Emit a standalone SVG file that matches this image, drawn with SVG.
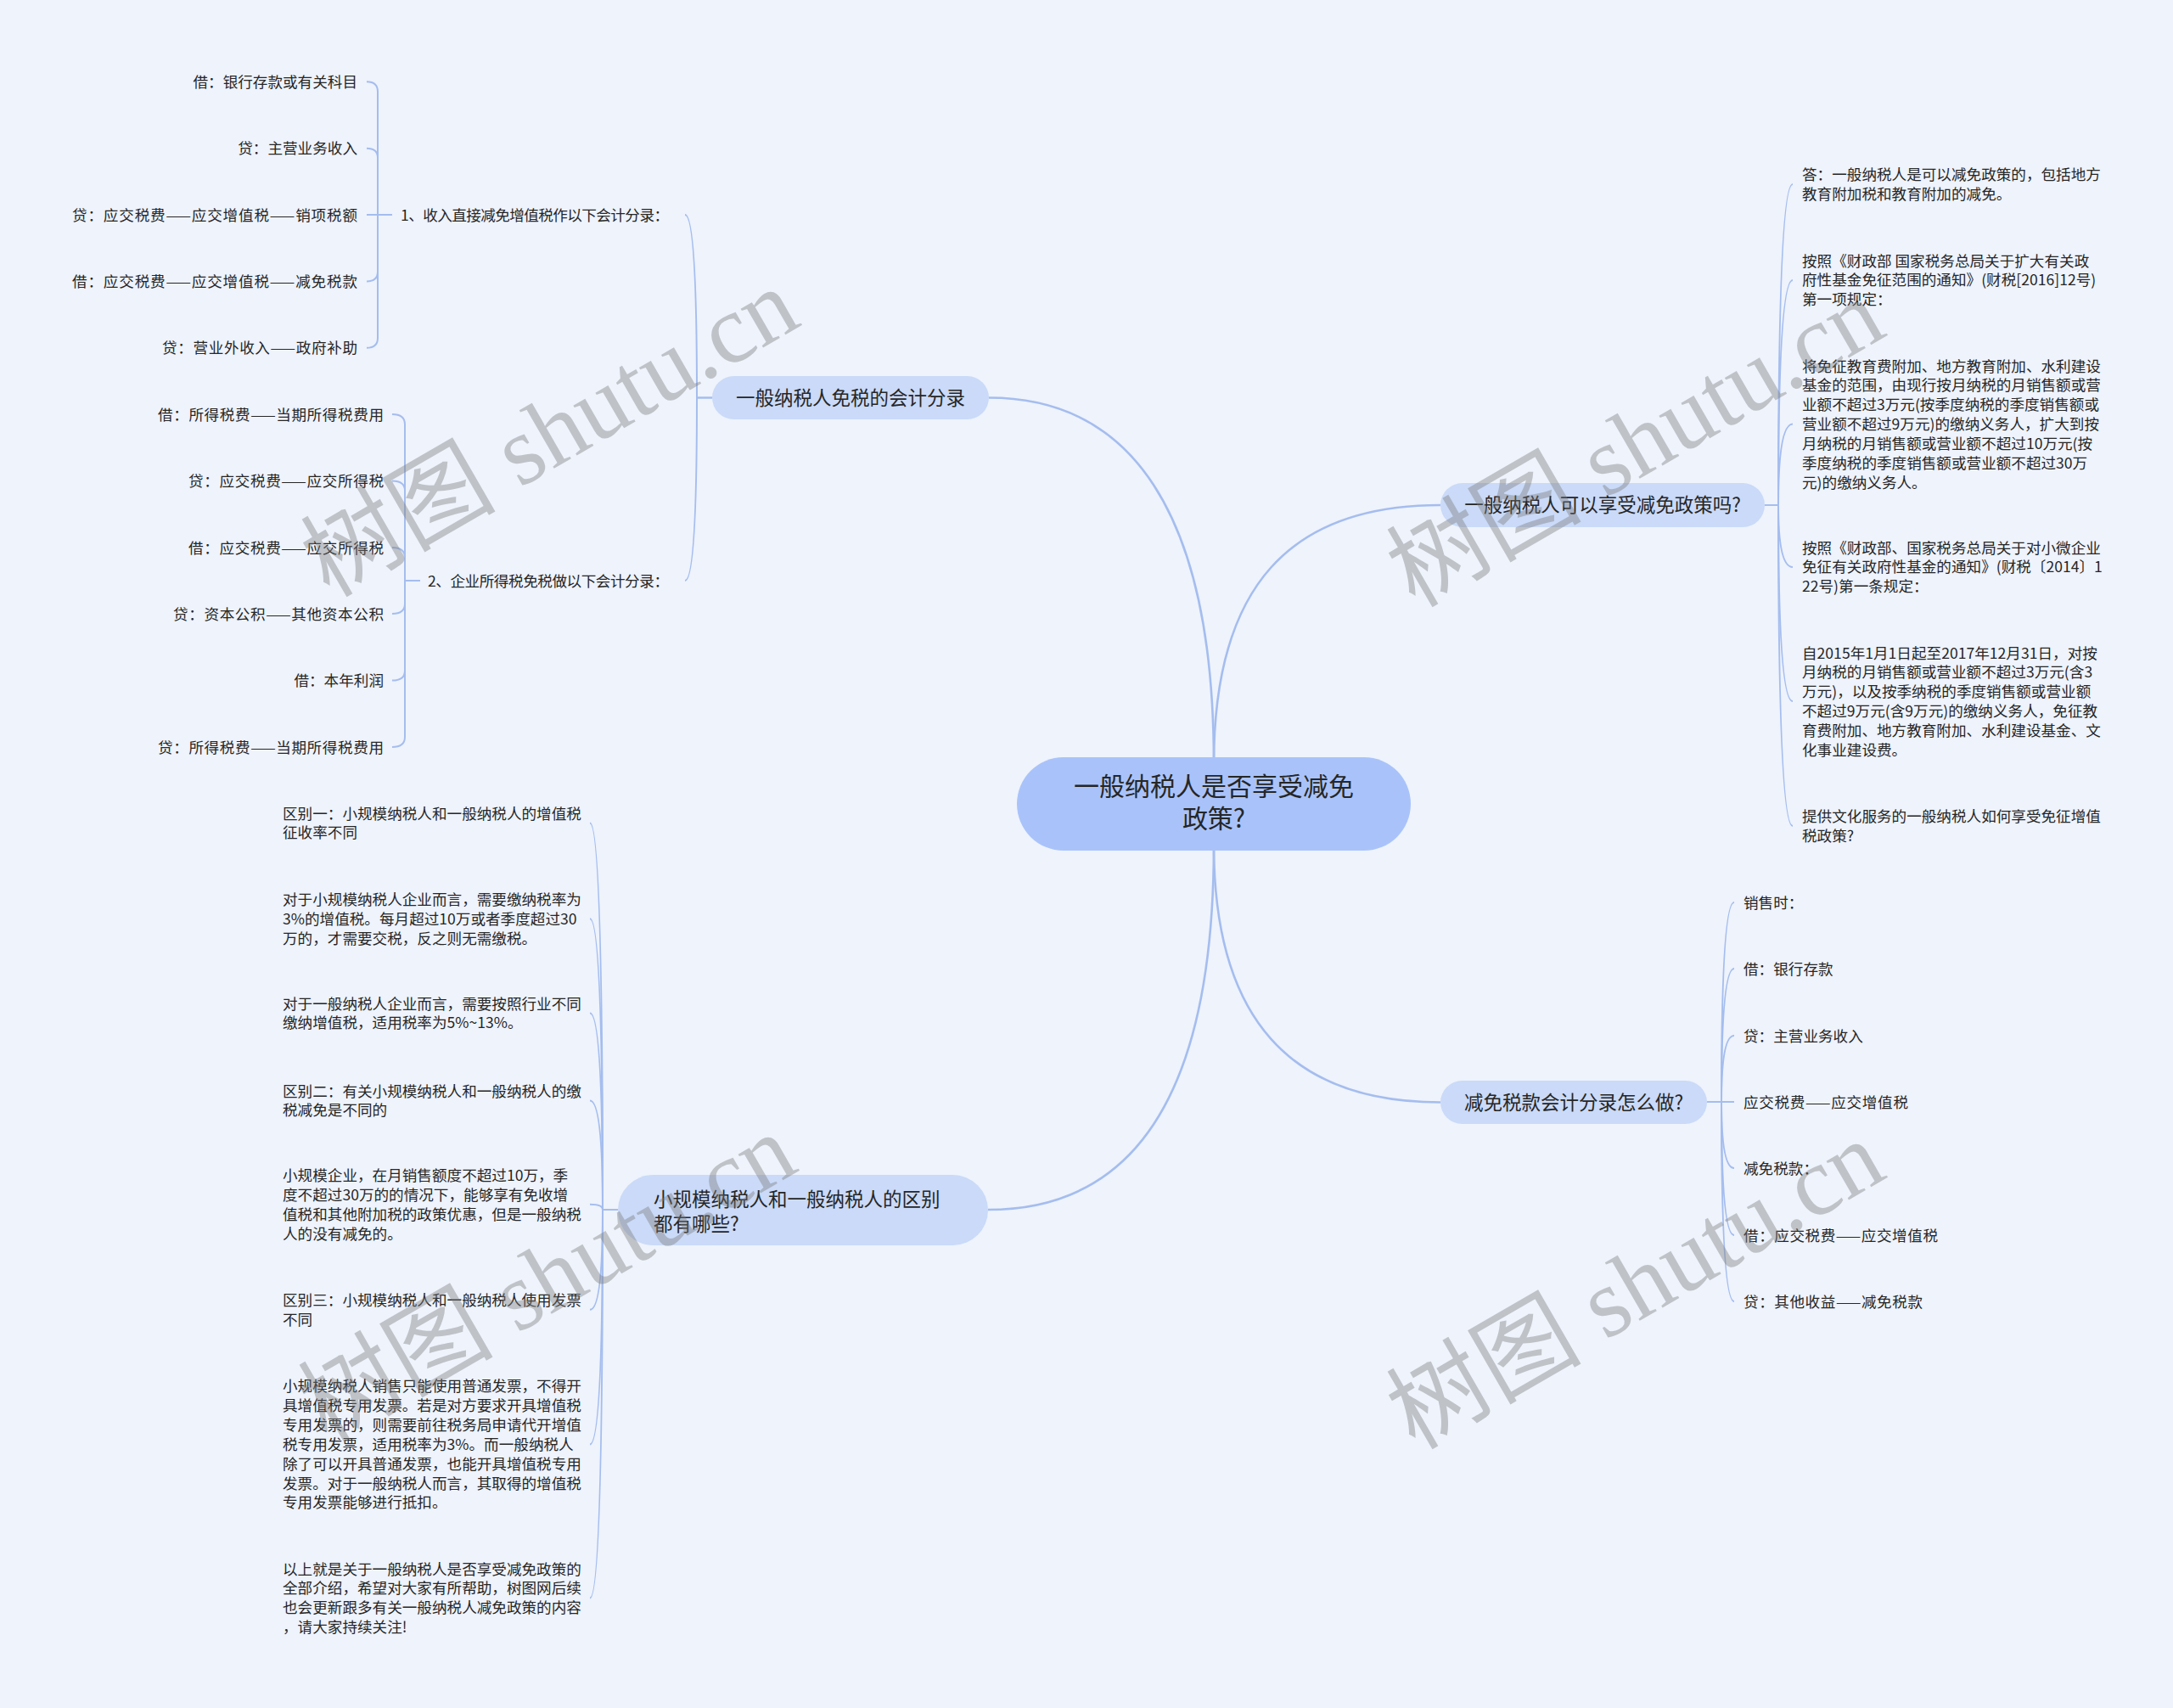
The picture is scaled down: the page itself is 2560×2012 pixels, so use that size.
<svg xmlns="http://www.w3.org/2000/svg" width="2560" height="2012" viewBox="0 0 2560 2012">
<defs>
<style>
.bg{fill:#eef3fc}
.main{fill:none;stroke:#a5bdee;stroke-width:2.6}
.sub{fill:none;stroke:#a5bdee;stroke-width:2}
.root rect{fill:#a9c3fa}
.branch rect{fill:#cadaf8}
text{font-family:"Noto Sans CJK SC","Noto Sans",sans-serif;fill:#262626}
.t-root{font-size:30px;text-anchor:middle}
.t-br{font-size:22.5px}
.t-leaf{font-size:17.6px}
.end{text-anchor:end}
.mid{text-anchor:middle}
.wm{font-family:"Liberation Serif","Noto Sans CJK SC",serif;font-size:115px;fill:#7a7a7a;opacity:0.4;text-anchor:middle;dominant-baseline:central}
</style>
</defs>
<rect class="bg" x="0" y="0" width="2560" height="2012"/>

<g id="connectors">
  <path class="main" d="M1430,900 C1430,600 1330,468.5 1165,468.5"/>
  <path class="main" d="M1430,900 C1430,690 1520,595 1697,595"/>
  <path class="main" d="M1430,995 C1430,1200 1520,1298.5 1697,1298.5"/>
  <path class="main" d="M1430,995 C1430,1300 1330,1425 1164,1425"/>

  <path class="sub" d="M839,468.5 H821 Q821,253 807,253"/>
  <path class="sub" d="M839,468.5 H821 Q821,684 807,684"/>

  <path class="sub" d="M462,253 H432"/>
  <path class="sub" d="M445,253 V108 Q445,96.3 432,96.3"/>
  <path class="sub" d="M445,253 V186 Q445,174.7 432,174.7"/>
  <path class="sub" d="M445,253 V320 Q445,331.4 432,331.4"/>
  <path class="sub" d="M445,253 V398 Q445,409.8 432,409.8"/>

  <path class="sub" d="M495,684 H477"/>
  <path class="sub" d="M477,684 V500 Q477,488 462,488"/>
  <path class="sub" d="M477,684 V578 Q477,566.5 462,566.5"/>
  <path class="sub" d="M477,684 V657 Q477,645 462,645"/>
  <path class="sub" d="M477,684 V711 Q477,723 462,723"/>
  <path class="sub" d="M477,684 V790 Q477,801.6 462,801.6"/>
  <path class="sub" d="M477,684 V868 Q477,880 462,880"/>

  <path class="sub" d="M2079,595 H2095"/>
  <path class="sub" d="M2095,595 Q2095,217 2112,217"/>
  <path class="sub" d="M2095,595 Q2095,330 2112,330"/>
  <path class="sub" d="M2095,595 Q2095,499.5 2112,499.5"/>
  <path class="sub" d="M2095,595 Q2095,668 2112,668"/>
  <path class="sub" d="M2095,595 Q2095,826 2112,826"/>
  <path class="sub" d="M2095,595 Q2095,973 2112,973"/>

  <path class="sub" d="M2011,1298 H2043"/>
  <path class="sub" d="M2028,1298 Q2028,1063 2043,1063"/>
  <path class="sub" d="M2028,1298 Q2028,1141 2043,1141"/>
  <path class="sub" d="M2028,1298 Q2028,1220 2043,1220"/>
  <path class="sub" d="M2028,1298 Q2028,1376 2043,1376"/>
  <path class="sub" d="M2028,1298 Q2028,1455 2043,1455"/>
  <path class="sub" d="M2028,1298 Q2028,1533 2043,1533"/>

  <path class="sub" d="M728,1425 H710"/>
  <path class="sub" d="M710,1425 Q710,969.5 695,969.5"/>
  <path class="sub" d="M710,1425 Q710,1082.3 695,1082.3"/>
  <path class="sub" d="M710,1425 Q710,1193.5 695,1193.5"/>
  <path class="sub" d="M710,1425 Q710,1296.5 695,1296.5"/>
  <path class="sub" d="M710,1425 Q710,1418.8 695,1418.8"/>
  <path class="sub" d="M710,1425 Q710,1542.8 695,1542.8"/>
  <path class="sub" d="M710,1425 Q710,1701.4 695,1701.4"/>
  <path class="sub" d="M710,1425 Q710,1882.5 695,1882.5"/>
</g>

<g id="root" class="root">
  <rect x="1198" y="892" width="464" height="110" rx="55"/>
  <text class="t-root"><tspan x="1430" y="937">一般纳税人是否享受减免</tspan><tspan x="1430" y="975">政策?</tspan></text>
</g>

<g id="b1" class="branch">
  <rect x="839" y="443" width="326" height="51" rx="25.5"/>
  <text class="t-br mid" x="1002" y="477">一般纳税人免税的会计分录</text>
</g>
<g id="b2" class="branch">
  <rect x="1697" y="569" width="382" height="52" rx="26"/>
  <text class="t-br mid" x="1888" y="603.3">一般纳税人可以享受减免政策吗?</text>
</g>
<g id="b3" class="branch">
  <rect x="1697" y="1273" width="314" height="51" rx="25.5"/>
  <text class="t-br mid" x="1854" y="1306.8">减免税款会计分录怎么做?</text>
</g>
<g id="b4" class="branch">
  <rect x="728" y="1384" width="436" height="83" rx="41.5"/>
  <text class="t-br"><tspan x="770" y="1421.3">小规模纳税人和一般纳税人的区别</tspan><tspan x="770" y="1450.3">都有哪些?</tspan></text>
</g>

<g id="s1"><text class="t-leaf" x="472" y="259.5" textLength="316" lengthAdjust="spacing">1、收入直接减免增值税作以下会计分录：</text></g>
<g id="s2"><text class="t-leaf" x="504" y="690.5" textLength="284" lengthAdjust="spacing">2、企业所得税免税做以下会计分录：</text></g>

<g id="l1"><text class="t-leaf end" x="421" y="102.8">借：银行存款或有关科目</text></g>
<g id="l2"><text class="t-leaf end" x="421" y="181.2">贷：主营业务收入</text></g>
<g id="l3"><text class="t-leaf" x="85" y="259.5" textLength="336" lengthAdjust="spacing">贷：应交税费——应交增值税——销项税额</text></g>
<g id="l4"><text class="t-leaf" x="85" y="337.9" textLength="336" lengthAdjust="spacing">借：应交税费——应交增值税——减免税款</text></g>
<g id="l5"><text class="t-leaf" x="191" y="416.3" textLength="230" lengthAdjust="spacing">贷：营业外收入——政府补助</text></g>

<g id="l6"><text class="t-leaf" x="186" y="494.5" textLength="266" lengthAdjust="spacing">借：所得税费——当期所得税费用</text></g>
<g id="l7"><text class="t-leaf" x="222" y="573" textLength="230" lengthAdjust="spacing">贷：应交税费——应交所得税</text></g>
<g id="l8"><text class="t-leaf" x="222" y="651.5" textLength="230" lengthAdjust="spacing">借：应交税费——应交所得税</text></g>
<g id="l9"><text class="t-leaf" x="204" y="729.5" textLength="248" lengthAdjust="spacing">贷：资本公积——其他资本公积</text></g>
<g id="l10"><text class="t-leaf end" x="452" y="808.1">借：本年利润</text></g>
<g id="l11"><text class="t-leaf" x="186" y="886.5" textLength="266" lengthAdjust="spacing">贷：所得税费——当期所得税费用</text></g>

<g id="r1"><text class="t-leaf"><tspan x="2123" y="212.2">答：一般纳税人是可以减免政策的，包括地方</tspan><tspan x="2123" dy="22.86">教育附加税和教育附加的减免。</tspan></text></g>
<g id="r2"><text class="t-leaf"><tspan x="2123" y="313.5">按照《财政部 国家税务总局关于扩大有关政</tspan><tspan x="2123" dy="22.86">府性基金免征范围的通知》(财税[2016]12号)</tspan><tspan x="2123" dy="22.86">第一项规定：</tspan></text></g>
<g id="r3"><text class="t-leaf"><tspan x="2123" y="437.5">将免征教育费附加、地方教育附加、水利建设</tspan><tspan x="2123" dy="22.86">基金的范围，由现行按月纳税的月销售额或营</tspan><tspan x="2123" dy="22.86">业额不超过3万元(按季度纳税的季度销售额或</tspan><tspan x="2123" dy="22.86">营业额不超过9万元)的缴纳义务人，扩大到按</tspan><tspan x="2123" dy="22.86">月纳税的月销售额或营业额不超过10万元(按</tspan><tspan x="2123" dy="22.86">季度纳税的季度销售额或营业额不超过30万</tspan><tspan x="2123" dy="22.86">元)的缴纳义务人。</tspan></text></g>
<g id="r4"><text class="t-leaf"><tspan x="2123" y="651.5">按照《财政部、国家税务总局关于对小微企业</tspan><tspan x="2123" dy="22.86">免征有关政府性基金的通知》(财税〔2014〕1</tspan><tspan x="2123" dy="22.86">22号)第一条规定：</tspan></text></g>
<g id="r5"><text class="t-leaf"><tspan x="2123" y="775.5">自2015年1月1日起至2017年12月31日，对按</tspan><tspan x="2123" dy="22.86">月纳税的月销售额或营业额不超过3万元(含3</tspan><tspan x="2123" dy="22.86">万元)，以及按季纳税的季度销售额或营业额</tspan><tspan x="2123" dy="22.86">不超过9万元(含9万元)的缴纳义务人，免征教</tspan><tspan x="2123" dy="22.86">育费附加、地方教育附加、水利建设基金、文</tspan><tspan x="2123" dy="22.86">化事业建设费。</tspan></text></g>
<g id="r6"><text class="t-leaf"><tspan x="2123" y="968.2">提供文化服务的一般纳税人如何享受免征增值</tspan><tspan x="2123" dy="22.86">税政策?</tspan></text></g>

<g id="k1"><text class="t-leaf" x="2054" y="1069.5">销售时：</text></g>
<g id="k2"><text class="t-leaf" x="2054" y="1147.5">借：银行存款</text></g>
<g id="k3"><text class="t-leaf" x="2054" y="1226.5">贷：主营业务收入</text></g>
<g id="k4"><text class="t-leaf" x="2054" y="1304.5" textLength="194" lengthAdjust="spacing">应交税费——应交增值税</text></g>
<g id="k5"><text class="t-leaf" x="2054" y="1382.5">减免税款：</text></g>
<g id="k6"><text class="t-leaf" x="2054" y="1461.5" textLength="229" lengthAdjust="spacing">借：应交税费——应交增值税</text></g>
<g id="k7"><text class="t-leaf" x="2054" y="1539.5" textLength="211" lengthAdjust="spacing">贷：其他收益——减免税款</text></g>

<g id="d1"><text class="t-leaf"><tspan x="333" y="964.5">区别一：小规模纳税人和一般纳税人的增值税</tspan><tspan x="333" dy="22.86">征收率不同</tspan></text></g>
<g id="d2"><text class="t-leaf"><tspan x="333" y="1066.1">对于小规模纳税人企业而言，需要缴纳税率为</tspan><tspan x="333" dy="22.86">3%的增值税。每月超过10万或者季度超过30</tspan><tspan x="333" dy="22.86">万的，才需要交税，反之则无需缴税。</tspan></text></g>
<g id="d3"><text class="t-leaf"><tspan x="333" y="1188.5">对于一般纳税人企业而言，需要按照行业不同</tspan><tspan x="333" dy="22.86">缴纳增值税，适用税率为5%~13%。</tspan></text></g>
<g id="d4"><text class="t-leaf"><tspan x="333" y="1291.5">区别二：有关小规模纳税人和一般纳税人的缴</tspan><tspan x="333" dy="22.86">税减免是不同的</tspan></text></g>
<g id="d5"><text class="t-leaf"><tspan x="333" y="1391">小规模企业，在月销售额度不超过10万，季</tspan><tspan x="333" dy="22.86">度不超过30万的的情况下，能够享有免收增</tspan><tspan x="333" dy="22.86">值税和其他附加税的政策优惠，但是一般纳税</tspan><tspan x="333" dy="22.86">人的没有减免的。</tspan></text></g>
<g id="d6"><text class="t-leaf"><tspan x="333" y="1538">区别三：小规模纳税人和一般纳税人使用发票</tspan><tspan x="333" dy="22.86">不同</tspan></text></g>
<g id="d7"><text class="t-leaf"><tspan x="333" y="1639.2">小规模纳税人销售只能使用普通发票，不得开</tspan><tspan x="333" dy="22.86">具增值税专用发票。若是对方要求开具增值税</tspan><tspan x="333" dy="22.86">专用发票的，则需要前往税务局申请代开增值</tspan><tspan x="333" dy="22.86">税专用发票，适用税率为3%。而一般纳税人</tspan><tspan x="333" dy="22.86">除了可以开具普通发票，也能开具增值税专用</tspan><tspan x="333" dy="22.86">发票。对于一般纳税人而言，其取得的增值税</tspan><tspan x="333" dy="22.86">专用发票能够进行抵扣。</tspan></text></g>
<g id="d8"><text class="t-leaf"><tspan x="333" y="1854.5">以上就是关于一般纳税人是否享受减免政策的</tspan><tspan x="333" dy="22.86">全部介绍，希望对大家有所帮助，树图网后续</tspan><tspan x="333" dy="22.86">也会更新跟多有关一般纳税人减免政策的内容</tspan><tspan x="333" dy="22.86">，请大家持续关注!</tspan></text></g>

<g id="watermarks">
  <text class="wm" x="648" y="510" transform="rotate(-30 648 510)">树图 shutu.cn</text>
  <text class="wm" x="1927" y="522" transform="rotate(-30 1927 522)">树图 shutu.cn</text>
  <text class="wm" x="645" y="1506" transform="rotate(-30 645 1506)">树图 shutu.cn</text>
  <text class="wm" x="1927" y="1514" transform="rotate(-30 1927 1514)">树图 shutu.cn</text>
</g>
</svg>
